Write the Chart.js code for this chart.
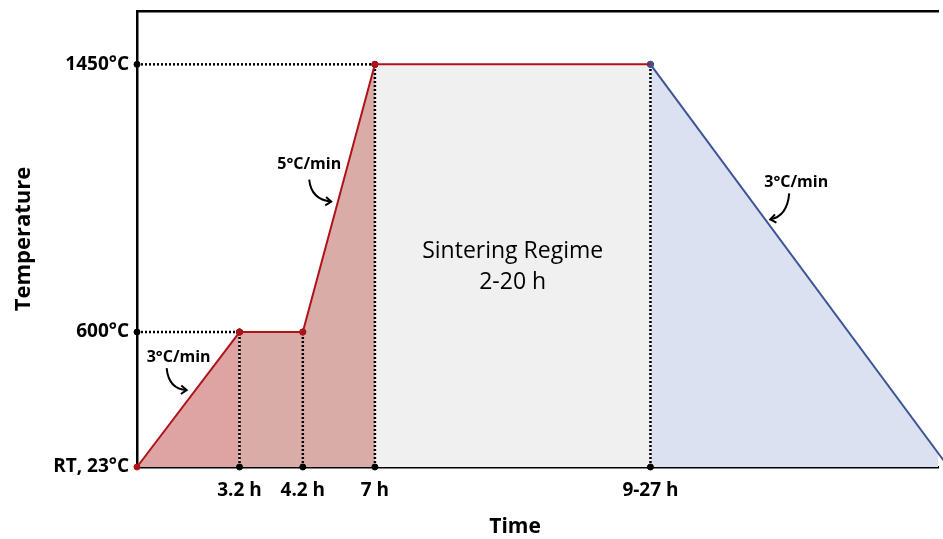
<!DOCTYPE html>
<html>
<head>
<meta charset="utf-8">
<script src="https://cdn.jsdelivr.net/npm/chart.js@4.4.1/dist/chart.umd.min.js"></script>
<style>
  html, body { margin: 0; padding: 0; background: #fff; }
  #wrap { width: 943px; height: 539px; }
</style>
</head>
<body>
<div id="wrap"><canvas id="firingChart"></canvas></div>
<script>
// Firing schedule. Both axes are schematic (not to scale), so positions run 0-100.
var timeLabels = ['3.2 h', '4.2 h', '7 h', '9-27 h'];
var timePos = [12.8, 20.7, 29.7, 64.1];
var coolEndPos = 101.3; // cooling ramp reaches RT just past the right edge
var tempLabels = ['RT, 23°C', '600°C', '1450°C'];
var tempPos = [0, 29.6, 88.3];
var rateLabels = ['3°C/min', '5°C/min', '3°C/min'];
var dwellLabel = ['Sintering Regime', '2-20 h'];

var FONT = "'Open Sans', sans-serif";
var RED = '#b0121a';
var BLUE = '#3d5596';

function pt(x, y) { return { x: x, y: y }; }

// main schedule segments
var rampUp1 = [pt(0, tempPos[0]), pt(timePos[0], tempPos[1])];
var holdRamp2 = [pt(timePos[0], tempPos[1]), pt(timePos[1], tempPos[1]), pt(timePos[2], tempPos[2])];
var dwell = [pt(timePos[2], tempPos[2]), pt(timePos[3], tempPos[2])];
var coolDown = [pt(timePos[3], tempPos[2]), pt(coolEndPos, tempPos[0])];

// dotted guide lines back to the axes
var guideLevels = [tempPos[1], tempPos[1], tempPos[2], tempPos[2]];
var guides = [
  [pt(0, tempPos[1]), pt(timePos[0], tempPos[1])],
  [pt(0, tempPos[2]), pt(timePos[2], tempPos[2])]
];
for (var i = 0; i < timePos.length; i++) {
  guides.push([pt(timePos[i], 0), pt(timePos[i], guideLevels[i])]);
}

function segment(data, line, fillColor, radii) {
  return {
    data: data,
    borderColor: line,
    borderWidth: 2,
    backgroundColor: fillColor,
    fill: 'origin',
    tension: 0,
    pointRadius: radii,
    pointBackgroundColor: line,
    pointBorderColor: line,
    pointBorderWidth: 1,
    clip: false
  };
}

var datasets = [
  segment(rampUp1, RED, '#dea3a3', [3, 3]),
  segment(holdRamp2, RED, '#d9aca8', [3, 3, 3]),
  segment(dwell, RED, '#f0f0f0', [3, 0]),
  segment(coolDown, BLUE, '#dce1f1', [3, 0])
];
guides.forEach(function (g) {
  datasets.push({
    data: g,
    borderColor: '#000',
    borderWidth: 2.5,
    borderDash: [2, 2],
    fill: false,
    pointRadius: 3,
    pointBackgroundColor: '#000',
    pointBorderColor: '#000',
    pointBorderWidth: 1,
    clip: false
  });
});

function curvedArrow(ctx, sx, sy, cx, cy, ex, ey) {
  ctx.beginPath();
  ctx.moveTo(sx, sy);
  ctx.quadraticCurveTo(cx, cy, ex, ey);
  ctx.stroke();
  var a = Math.atan2(ey - cy, ex - cx), h = 7;
  ctx.beginPath();
  ctx.moveTo(ex - h * Math.cos(a - 0.65), ey - h * Math.sin(a - 0.65));
  ctx.lineTo(ex, ey);
  ctx.lineTo(ex - h * Math.cos(a + 0.65), ey - h * Math.sin(a + 0.65));
  ctx.stroke();
}

// text notes and arrows on top of the chart
var notesPlugin = {
  id: 'notes',
  afterDraw: function (chart) {
    var ctx = chart.ctx;
    var xs = chart.scales.x, ys = chart.scales.y;
    ctx.save();
    ctx.fillStyle = '#000';
    ctx.strokeStyle = '#000';
    ctx.lineWidth = 2;
    ctx.textAlign = 'center';
    ctx.textBaseline = 'middle';

    // dwell region label
    var cx = (xs.getPixelForValue(timePos[2]) + xs.getPixelForValue(timePos[3])) / 2;
    var cy = ys.getPixelForValue(43.8);
    ctx.font = '400 23px ' + FONT;
    ctx.fillText(dwellLabel[0], cx, cy - 15.5);
    ctx.fillText(dwellLabel[1], cx, cy + 15.5);

    // ramp rate labels with arrows (offsets in px from label centre)
    var notes = [
      { x: 5.2, y: 24.1, arrow: [-12, 11, -10, 32, 8, 33] },
      { x: 21.5, y: 66.3, arrow: [0, 15, 2, 35, 22, 37] },
      { x: 82.3, y: 62.4, arrow: [-7, 11, -9, 34, -26, 37] }
    ];
    ctx.font = 'bold 16px ' + FONT;
    notes.forEach(function (n, k) {
      var px = xs.getPixelForValue(n.x), py = ys.getPixelForValue(n.y);
      ctx.fillText(rateLabels[k], px, py);
      var a = n.arrow;
      curvedArrow(ctx, px + a[0], py + a[1], px + a[2], py + a[3], px + a[4], py + a[5]);
    });

    // x axis title
    ctx.font = 'bold 21px ' + FONT;
    ctx.fillText('Time', xs.getPixelForValue(47.2), 527);
    ctx.restore();
  }
};

function noEdgePadding(scale) {
  scale.paddingTop = 0;
  scale.paddingBottom = 0;
  scale.paddingLeft = 0;
  scale.paddingRight = 0;
}

var ctx = document.getElementById('firingChart').getContext('2d');
var firingChart = new Chart(ctx, {
  type: 'line',
  data: { datasets: datasets },
  options: {
    responsive: true,
    maintainAspectRatio: false,
    animation: false,
    layout: { padding: 0 },
    plugins: {
      legend: { display: false },
      tooltip: { enabled: false },
      filler: { drawTime: 'beforeDatasetsDraw' } // all fills first, so guides stay visible
    },
    scales: {
      x: {
        type: 'linear',
        position: 'bottom',
        min: 0,
        max: 100,
        afterBuildTicks: function (scale) {
          scale.ticks = timePos.map(function (v) { return { value: v }; });
        },
        afterFit: function (scale) { scale.height = 72; noEdgePadding(scale); },
        grid: { display: false, drawTicks: false, tickLength: 0 },
        border: { display: true, color: '#000', width: 2.5 },
        ticks: {
          autoSkip: false,
          maxRotation: 0,
          padding: 12,
          color: '#000',
          font: { family: FONT, size: 19, weight: 'bold' },
          callback: function (v, i) { return timeLabels[i]; }
        }
      },
      xTop: {
        axis: 'x',
        type: 'linear',
        position: 'top',
        min: 0,
        max: 100,
        afterFit: function (scale) { scale.height = 11; noEdgePadding(scale); },
        grid: { display: false, drawTicks: false, tickLength: 0 },
        border: { display: true, color: '#000', width: 2.5 },
        ticks: { display: false }
      },
      y: {
        type: 'linear',
        min: 0,
        max: 100,
        afterBuildTicks: function (scale) {
          scale.ticks = tempPos.map(function (v) { return { value: v }; });
        },
        afterFit: function (scale) { scale.width = 137; noEdgePadding(scale); },
        grid: { display: false, drawTicks: false, tickLength: 0 },
        border: { display: true, color: '#000', width: 2.5 },
        ticks: {
          autoSkip: false,
          padding: 8,
          color: '#000',
          font: { family: FONT, size: 19, weight: 'bold' },
          callback: function (v, i) { return tempLabels[i]; }
        },
        title: {
          display: true,
          text: 'Temperature',
          color: '#000',
          padding: { top: 11, bottom: 0 },
          font: { family: FONT, size: 22, weight: 'bold' }
        }
      }
    }
  },
  plugins: [notesPlugin]
});
</script>
</body>
</html>
